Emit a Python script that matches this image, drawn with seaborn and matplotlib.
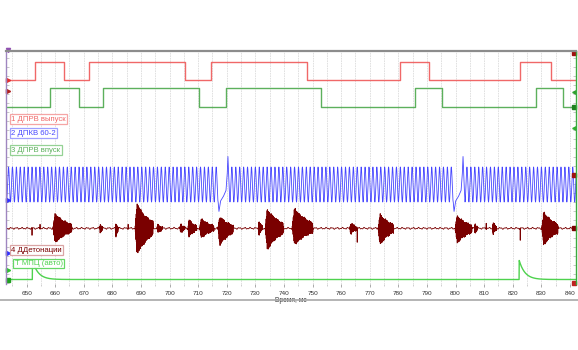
import numpy as np
import pandas as pd
import matplotlib
matplotlib.use("Agg")
import matplotlib.pyplot as plt
import matplotlib.transforms as mtransforms
import seaborn as sns

sns.set_theme(style="white")
plt.rcParams['font.family'] = ['Liberation Sans', 'DejaVu Sans']

# ---- time window, ms ----
t_min, t_max = 642.8, 842.1
tick_ms = list(range(650, 841, 10))

# ---- cam sensor, exhaust: switching times (ms), level starts low ----
exh_edges = [653.1, 663.1, 671.9, 705.5, 714.5, 748.1, 780.5, 790.7, 822.6, 833.2]
exh_start = 0
# ---- cam sensor, intake ----
int_edges = [658.3, 668.2, 676.8, 710.3, 719.7, 753.1, 785.7, 795.3, 828.2, 837.6]
int_start = 0

# ---- crank sensor 60-2: sync (missing-tooth) peaks and tooth period, ms ----
crank_sync = [720.4, 802.6]
crank_tooth = 1.37
# missing-tooth pulse profile: offset in tooth periods -> amplitude
gap_offsets = [-2.5, -2.3, -1.9, -1.2, -0.5, -0.2, 0.0, 0.25, 0.5]
gap_values = [-1.0, -1.55, -0.95, -0.7, -0.35, 0.5, 1.6, 0.1, -1.0]

# ---- knock sensor bursts: start, end (ms), positive / negative peak ----
knock_start = [659.2, 675.6, 681.0, 687.9, 695.6, 703.6, 706.4, 710.5, 716.9,
               731.0, 733.4, 742.8, 763.0, 772.9, 799.8, 806.6, 812.9, 830.1]
knock_end = [665.8, 676.6, 682.0, 694.2, 697.6, 705.4, 709.5, 715.5, 722.2,
             732.4, 739.7, 750.1, 765.5, 778.3, 805.7, 807.7, 814.3, 835.8]
knock_pos = [1.5, 0.5, 0.6, 2.5, 0.4, 0.5, 0.9, 1.0, 1.2,
             0.8, 2.0, 2.1, 0.6, 1.5, 1.3, 0.6, 0.7, 1.7]
knock_neg = [1.5, 0.5, 1.0, 2.7, 0.5, 0.5, 0.9, 1.0, 1.8,
             0.8, 2.2, 1.7, 0.6, 1.7, 1.6, 0.6, 0.7, 1.8]
# single-sample spikes on the knock channel
spike_ms = [651.9, 654.7, 685.5, 765.6, 810.7, 822.6]
spike_val = [-0.7, 0.4, 0.4, -1.4, 0.5, -1.2]

# ---- ignition (Т МПЦ) pulses ----
spark_ms = [652.0, 822.2]
spark_amp = [1.0, 1.0]
spark_decay = 2.0

# ---- channel names ----
labels = ["1 ДПРВ выпуск", "2 ДПКВ 60-2", "3 ДПРВ впуск", "4 ДДетонации", "Т МПЦ (авто)"]
colors = ["#f06868", "#4646ff", "#5cb05c", "#7a0000", "#4ed24e"]
edge_colors = ["#f5a0a0", "#9a9aff", "#8fd08f", "#d8a0a0", "#5ed65e"]

# ---------------------------------------------------------------
W, H = 578, 350
fig = plt.figure(figsize=(W / 100, H / 100), dpi=100)
top_px, bot_px, left_px, right_px = 51, 284, 6, 576
ax = fig.add_axes([left_px / W, 1 - bot_px / H, (right_px - left_px) / W, (bot_px - top_px) / H])
ax.set_xlim(t_min, t_max)
ax.set_ylim(bot_px, top_px)   # vertical screen rows, channels stacked


def step_trace(edges, start):
    xs, ys, lvl = [t_min], [start], start
    for e in edges:
        xs += [e, e]
        ys += [lvl, 1 - lvl]
        lvl = 1 - lvl
    xs.append(t_max)
    ys.append(lvl)
    return np.array(xs), np.array(ys, dtype=float)


def draw(x, y, color, lw, alpha=1.0):
    sns.lineplot(x=x, y=y, ax=ax, color=color, lw=lw, estimator=None, sort=False,
                 legend=False, alpha=alpha)


# vertical grid
for g in np.arange(645, 841, 5):
    ax.axvline(g, color="#dcdcdc", lw=0.6, ls=(0, (2, 1)), zorder=0)

# exhaust cam
x, y = step_trace(exh_edges, exh_start)
draw(x, 80 - 18 * y, colors[0], 1.0)

# intake cam
x, y = step_trace(int_edges, int_start)
draw(x, 106.5 - 19 * y, colors[2], 1.0)

# crank signal
t = np.arange(t_min, t_max, 0.02)
sync = np.array(crank_sync)
nearest = sync[np.argmin(np.abs(t[:, None] - sync[None, :]), axis=1)]
rel = (t - nearest) / crank_tooth
crank = np.cos(2 * np.pi * rel)
in_gap = (rel >= gap_offsets[0]) & (rel <= gap_offsets[-1])
crank[in_gap] = np.interp(rel[in_gap], gap_offsets, gap_values)
draw(t, 184.5 - 17.5 * crank, colors[1], 0.6)

# knock sensor
tk = np.arange(t_min, t_max, 0.01)
knock = 0.06 * np.sin(2 * np.pi * tk / 1.9) + 0.04 * np.sin(2 * np.pi * tk / 0.83)
carrier = np.sin(2 * np.pi * tk / 0.113)
for s, e, p, n in zip(knock_start, knock_end, knock_pos, knock_neg):
    m = (tk >= s) & (tk <= e)
    u = (tk[m] - s) / (e - s)
    env = np.where(u < 0.12, u / 0.12, np.exp(-1.3 * (u - 0.12) / 0.88))
    env *= 0.6 + 0.4 * np.abs(np.sin(2 * np.pi * tk[m] / 0.7))
    c = carrier[m]
    knock[m] += env * np.where(c > 0, p, n) * c
for s, v in zip(spike_ms, spike_val):
    knock[np.argmin(np.abs(tk - s))] = v
draw(tk, 228.3 - 10 * knock, colors[3], 0.6)

# ignition pulses
ts = np.arange(t_min, t_max, 0.05)
spark = np.zeros_like(ts)
for s, a in zip(spark_ms, spark_amp):
    m = ts >= s
    spark[m] += a * np.exp(-(ts[m] - s) / spark_decay)
draw(ts, 279.5 - 19.5 * spark, colors[4], 1.0)

# axes frame
ax.spines["bottom"].set_visible(False)
ax.spines["top"].set_color("#8c8c8c")
ax.spines["top"].set_linewidth(1.6)
ax.spines["left"].set_color("#9f86c0")
ax.spines["left"].set_linewidth(1.0)
ax.spines["right"].set_color("#3caa3c")
ax.spines["right"].set_linewidth(1.0)

ax.set_xticks(tick_ms)
ax.set_xticklabels([str(v) for v in tick_ms], fontsize=4.6, color="#333333")
ax.set_xticks(np.arange(645, 841, 5), minor=True)
ax.tick_params(axis="x", which="major", length=2, width=0.5, color="#888888", pad=3,
               bottom=True)
ax.tick_params(axis="x", which="minor", length=1.2, width=0.4, color="#aaaaaa", bottom=True)
ax.set_yticks(np.arange(58, 284, 9))
ax.set_yticklabels([])
ax.tick_params(axis="y", length=2, width=0.5, color="#b0b0b0", left=True, right=True,
               direction="in")
ax.set_xlabel("Время, мс", fontsize=4.8, color="#333333", labelpad=0.5)
ax.grid(False)

# channel markers on the frame
blend = mtransforms.blended_transform_factory(ax.transAxes, ax.transData)
left_marks = [(50, "v", "#9050b0"), (80, ">", "#e03030"), (91, ">", "#b02020"),
              (200, ">", "#3030ff"), (253, ">", "#3030ff"), (270, ">", "#30c030"),
              (280, "s", "#20a020")]
for yy, mk, col in left_marks:
    ax.plot([0.004], [yy], marker=mk, ms=3, color=col, transform=blend, clip_on=False)
right_marks = [(52, "v", "#30b030"), (53, "s", "#a01010"), (92, "<", "#30a030"),
               (106.5, "s", "#208020"), (128, "<", "#30b030"), (175, "s", "#a01010"),
               (228.3, "s", "#7a0000"), (283, "s", "#c02020")]
for yy, mk, col in right_marks:
    ax.plot([0.996], [yy], marker=mk, ms=2.6, color=col, transform=blend, clip_on=False)

# channel labels
label_pos = [(10, 119), (10, 133.3), (10, 150), (10, 250), (13.5, 263.5)]
for (px, py), txt, col, ec in zip(label_pos, labels, colors, edge_colors):
    fig.text(px / W + 0.002, 1 - py / H, txt, fontsize=5.6, color=col, ha="left",
             va="center",
             bbox=dict(boxstyle="square,pad=0.18", fc="white", ec=ec, lw=0.9, alpha=0.95))

# bottom separator
fig.add_artist(plt.Line2D([0, 1], [1 - 300 / H, 1 - 300 / H], color="#a8a8a8", lw=1.2))

fig.savefig("out.png", dpi=100, facecolor="white")
